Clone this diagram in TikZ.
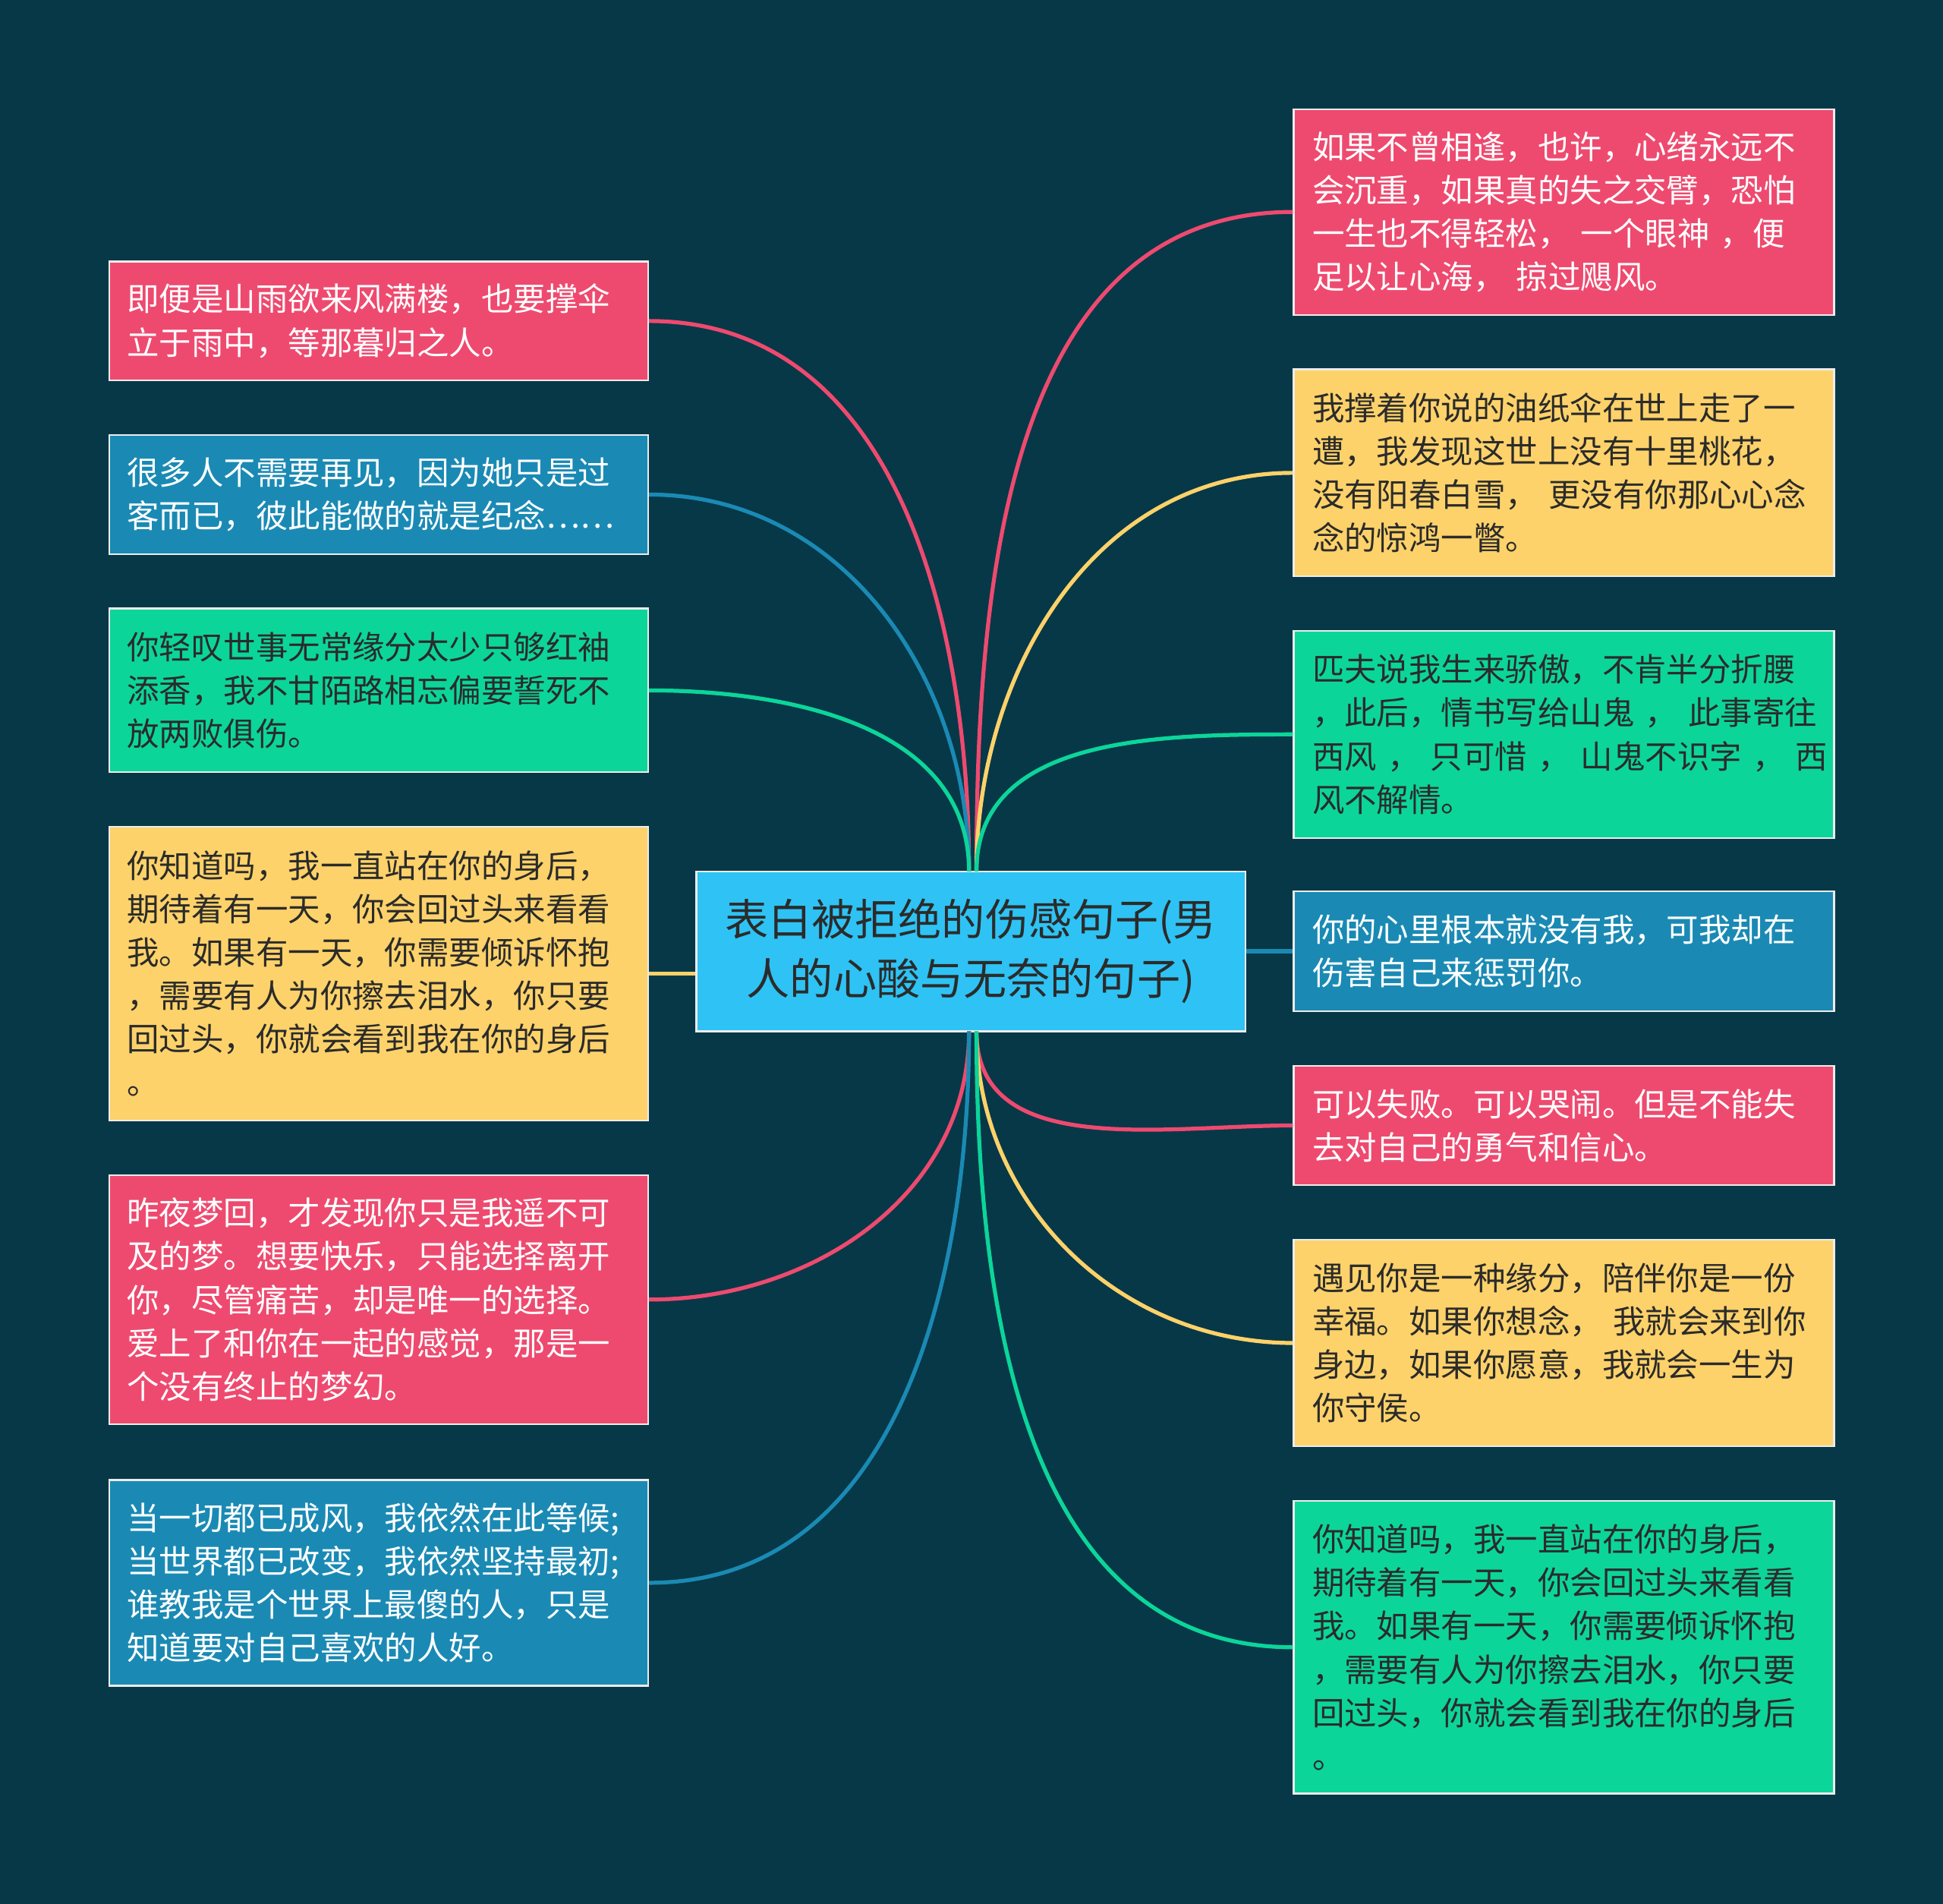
\documentclass[tikz,border=0pt]{standalone}
\usepackage{fontspec}
\setmainfont{Noto Sans CJK SC}
\definecolor{bg}{HTML}{073848}
\definecolor{pk}{HTML}{EE4A6F}
\definecolor{bl}{HTML}{1A8AB4}
\definecolor{gr}{HTML}{0CD59A}
\definecolor{yl}{HTML}{FDD26A}
\definecolor{cn}{HTML}{2EC3F4}
\definecolor{dk}{HTML}{2B2B2B}
\newcommand\bx[7]{\node[#6,minimum width={(#4-#2)*0.5pt},minimum height={(#5-#3)*0.5pt}] (#1) at ({(#2+#4)/2},{(#3+#5)/2}) {#7};}
\begin{document}
\begin{tikzpicture}[x=0.5pt,y=-0.5pt,
 box/.style={draw=white!85!gray,line width=0.7pt,inner xsep=7pt,inner ysep=0pt,text width=203pt,align=left,font=\fontsize{13pt}{17.5pt}\selectfont},
 pkb/.style={box,fill=pk,text=white},
 blb/.style={box,fill=bl,text=white},
 grb/.style={box,fill=gr,text=dk},
 ylb/.style={box,fill=yl,text=dk},
 ln/.style={line width=1.6pt}]
\fill[bg] (0,0) rectangle (1568,1536);
\useasboundingbox (0,0) rectangle (1568,1536);
\bx{C}{562}{703}{1005}{832}{draw=white!85!gray,line width=0.7pt,fill=cn,text=dk,align=center,font=\fontsize{17.5pt}{24pt}\selectfont}{表白被拒绝的伤感句子(男\\人的心酸与无奈的句子)}
\bx{L1}{88}{211}{523}{307}{pkb}{即便是山雨欲来风满楼，也要撑伞\\立于雨中，等那暮归之人。}
\bx{L2}{88}{351}{523}{447}{blb}{很多人不需要再见，因为她只是过\\客而已，彼此能做的就是纪念……}
\bx{L3}{88}{491}{523}{623}{grb}{你轻叹世事无常缘分太少只够红袖\\添香，我不甘陌路相忘偏要誓死不\\放两败俱伤。}
\bx{L4}{88}{667}{523}{904}{ylb}{你知道吗，我一直站在你的身后，\\期待着有一天，你会回过头来看看\\我。如果有一天，你需要倾诉怀抱\\，需要有人为你擦去泪水，你只要\\回过头，你就会看到我在你的身后\\。}
\bx{L5}{88}{948}{523}{1149}{pkb}{昨夜梦回，才发现你只是我遥不可\\及的梦。想要快乐，只能选择离开\\你，尽管痛苦，却是唯一的选择。\\爱上了和你在一起的感觉，那是一\\个没有终止的梦幻。}
\bx{L6}{88}{1194}{523}{1360}{blb}{当一切都已成风，我依然在此等候;\\当世界都已改变，我依然坚持最初;\\谁教我是个世界上最傻的人，只是\\知道要对自己喜欢的人好。}
\bx{R1}{1044}{88}{1480}{254}{pkb}{如果不曾相逢，也许，心绪永远不\\会沉重，如果真的失之交臂，恐怕\\一生也不得轻松， 一个眼神 ，便\\足以让心海， 掠过飓风。}
\bx{R2}{1044}{298}{1480}{465}{ylb}{我撑着你说的油纸伞在世上走了一\\遭，我发现这世上没有十里桃花，\\没有阳春白雪， 更没有你那心心念\\念的惊鸿一瞥。}
\bx{R3}{1044}{509}{1480}{676}{grb}{匹夫说我生来骄傲，不肯半分折腰\\\mbox{，此后，情书写给山鬼 ， 此事寄往}\\\mbox{西风 ， 只可惜 ， 山鬼不识字 ， 西}\\风不解情。}
\bx{R4}{1044}{719}{1480}{816}{blb}{你的心里根本就没有我，可我却在\\伤害自己来惩罚你。}
\bx{R5}{1044}{860}{1480}{956}{pkb}{可以失败。可以哭闹。但是不能失\\去对自己的勇气和信心。}
\bx{R6}{1044}{1000}{1480}{1167}{ylb}{遇见你是一种缘分，陪伴你是一份\\幸福。如果你想念， 我就会来到你\\身边，如果你愿意，我就会一生为\\你守侯。}
\bx{R7}{1044}{1211}{1480}{1447}{grb}{你知道吗，我一直站在你的身后，\\期待着有一天，你会回过头来看看\\我。如果有一天，你需要倾诉怀抱\\，需要有人为你擦去泪水，你只要\\回过头，你就会看到我在你的身后\\。}
\coordinate (ctl) at (782,703);
\coordinate (ctr) at (788,703);
\coordinate (cbl) at (782,832);
\coordinate (cbr) at (788,832);
\draw[ln,pk] (ctl) to[out=90,in=0] (L1.east);
\draw[ln,bl] (ctl) to[out=90,in=0] (L2.east);
\draw[ln,gr] (ctl) to[out=90,in=0] (L3.east);
\draw[ln,yl] (C.west |- L4.east) -- (L4.east);
\draw[ln,pk] (cbl) to[out=-90,in=0] (L5.east);
\draw[ln,bl] (cbl) to[out=-90,in=0] (L6.east);
\draw[ln,pk] (ctr) to[out=90,in=180] (R1.west);
\draw[ln,yl] (ctr) to[out=90,in=180] (R2.west);
\draw[ln,gr] (ctr) to[out=90,in=180] (R3.west);
\draw[ln,bl] (C.east |- R4.west) -- (R4.west);
\draw[ln,pk] (cbr) to[out=-90,in=180] (R5.west);
\draw[ln,yl] (cbr) to[out=-90,in=180] (R6.west);
\draw[ln,gr] (cbr) to[out=-90,in=180] (R7.west);
\end{tikzpicture}
\end{document}
